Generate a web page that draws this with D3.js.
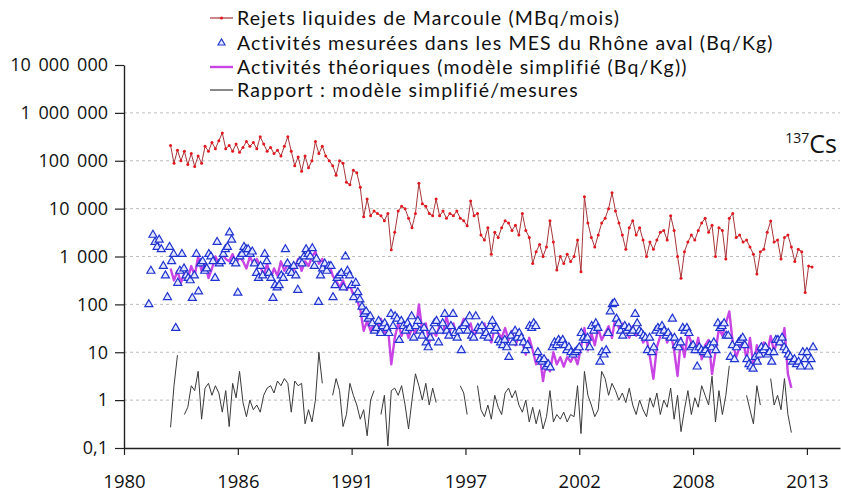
<!DOCTYPE html>
<html><head><meta charset="utf-8">
<script src="https://cdn.jsdelivr.net/npm/d3@7"></script>
<style>
html,body{margin:0;padding:0;background:#fff;}
svg{display:block;font-family:"Open Sans",sans-serif;}
</style></head>
<body>
<svg id="chart" width="841" height="495"></svg>
<script>
// ---------------- DATA ----------------
const legendLabels = [
  "Rejets liquides de Marcoule (MBq/mois)",
  "Activités mesurées dans les MES du Rhône aval (Bq/Kg)",
  "Activités théoriques (modèle simplifié (Bq/Kg))",
  "Rapport : modèle simplifié/mesures"
];
const xTickValues = [1980, 1985.5, 1991, 1996.5, 2002, 2007.5, 2013];
const xTickLabels = ["1980", "1986", "1991", "1997", "2002", "2008", "2013"];
const yTickValues = [0.1, 1, 10, 100, 1000, 10000, 100000, 1000000, 10000000];
const yTickLabels = ["0,1", "1", "10", "100", "1 000", "10 000", "100 000", "1 000 000", "10 000 000"];
const isotopeMass = "137";
const isotopeSymbol = "Cs";

// series sampled every 2 months from 1982.25 (red, purple, black), every 0.1 year from 1981.2 (blue)
const lineStart = 1982.25, lineStep = 1 / 6;
const blueStart = 1981.2, blueStep = 0.1;

const rejets = [
  209000, 89000, 166000, 100000, 158000, 83000,
  141000, 76000, 126000, 89000, 200000, 158000,
  240000, 178000, 263000, 380000, 178000, 209000,
  158000, 224000, 151000, 190000, 251000, 200000,
  240000, 178000, 316000, 224000, 158000, 190000,
  141000, 166000, 126000, 200000, 316000, 158000,
  79000, 120000, 60000, 126000, 71000, 100000,
  251000, 141000, 200000, 126000, 100000, 79000,
  50000, 100000, 89000, 35500, 31600, 63000,
  56000, 28000, 6800, 15800, 7100, 8900,
  7900, 7100, 5600, 7900, 1380, 3200,
  8900, 11200, 10000, 6300, 4000, 7900,
  34000, 12600, 11200, 7900, 7100, 15800,
  7100, 8900, 6300, 7900, 7100, 8900,
  6300, 5600, 4400, 14500, 7100, 7900,
  2800, 2200, 4000, 1120, 3200, 2500,
  4000, 5600, 5000, 3500, 4500, 2800,
  7900, 3500, 2500, 710, 1260, 1780,
  1000, 1580, 5600, 2000, 520, 1000,
  710, 1120, 790, 1000, 2200, 480,
  17800, 5000, 2500, 1580, 2800, 5000,
  6300, 10000, 21400, 8900, 5000, 2800,
  1410, 4000, 5600, 2800, 4000, 2200,
  1000, 2000, 1410, 2200, 3200, 3500,
  2200, 7100, 3500, 1000, 350, 1260,
  2000, 2800, 2200, 3500, 5000, 6300,
  3200, 4500, 1000, 4000, 3500, 890,
  6300, 7900, 2500, 2800, 2000, 2200,
  1580, 1120, 430, 1260, 1410, 3200,
  5500, 2000, 2200, 890, 2500, 2800,
  1580, 790, 1410, 1260, 178, 630,
  600
];

const mesures = [
  100, 500, 2820, 2000, 1580, 2240, 1410, 630,
  400, 141, 1580, 790, 1120, 32, 280, 500, 1120, 560,
  400, 355, 316, 135, 400, 1120, 186, 710, 790, 500,
  560, 1120, 1000, 790, 355, 2000, 710, 790, 1120, 1410,
  1580, 3160, 2240, 790, 710, 174, 1000, 1120, 1580, 1410,
  1410, 1120, 1260, 710, 450, 355, 630, 400, 1120, 790,
  450, 355, 135, 250, 224, 250, 400, 355, 1410, 710,
  500, 450, 630, 400, 200, 790, 710, 1000, 1410, 1120,
  1000, 1480, 630, 890, 112, 400, 560, 710, 500, 630,
  630, 141, 250, 355, 400, 450, 224, 1000, 500, 400,
  250, 141, 280, 178, 126, 89, 63, 71, 50, 56,
  40, 28, 32, 45, 25, 35, 40, 32, 25, 63,
  35, 56, 50, 18, 45, 35, 28, 40, 32, 56,
  20, 35, 45, 28, 22, 32, 16, 12.6, 20, 28,
  40, 45, 16, 28, 40, 63, 28, 22, 35, 63,
  25, 20, 28, 11, 35, 40, 28, 56, 22, 20,
  56, 32, 28, 35, 22, 25, 20, 35, 45, 28,
  32, 18, 16, 14, 18, 12.6, 7.9, 22, 16, 28,
  20, 25, 20, 16, 11, 14, 35, 32, 40, 35,
  10, 7.1, 6.3, 7.1, 5.0, 5.6, 4.8, 12.6, 16, 14,
  18, 16, 18, 14, 11, 12.6, 10, 8.9, 10, 11,
  12.6, 25, 20, 18, 20, 12.6, 35, 28, 40, 32,
  6.3, 10, 8.9, 11, 25, 71, 100, 107, 50, 40,
  28, 22, 35, 28, 32, 25, 28, 63, 40, 28,
  25, 22, 20, 11, 20, 10, 12.6, 28, 32, 25,
  35, 28, 22, 25, 20, 50, 20, 14, 12.6, 16,
  32, 28, 32, 25, 12.6, 14, 11, 5.0, 12.6, 11,
  10, 11, 8.9, 14, 12.6, 16, 11, 40, 32, 35,
  40, 22, 22, 7.9, 14, 7.1, 12.6, 16, 18, 20,
  14, 7.1, 5.6, 5.0, 4.5, 7.9, 6.3, 8.9, 12.6, 11,
  12.6, 8.9, 10, 6.3, 10, 18, 18, 16, 20, 12.6,
  11, 8.9, 7.9, 6.3, 7.1, 5.6, 6.3, 5.0, 10, 7.1,
  10, 5.0, 7.1, 12.6
];

const theoriques = [
  562, 316, 501, 282, 447, 355,
  631, 398, 1000, 501, 708, 355,
  562, 1000, 708, 1120, 891, 794,
  1120, 708, 1000, 794, 562, 1000,
  708, 891, 631, 398, 708, 355,
  562, 398, 794, 501, 708, 447,
  562, 891, 501, 794, 631, 1000,
  1260, 708, 891, 501, 708, 398,
  316, 224, 316, 200, 251, 158,
  126, 79, 28, 45, 28, 40,
  32, 50, 25, 35, 5.6, 20,
  40, 22, 35, 20, 32, 25,
  100, 28, 40, 16, 28, 22,
  35, 25, 56, 28, 40, 22,
  32, 50, 28, 40, 20, 35,
  28, 40, 22, 16, 32, 25,
  20, 32, 18, 28, 14, 22,
  16, 8.9, 20, 11, 5.6, 8.9,
  2.5, 7.1, 4.0, 10, 5.6, 7.9,
  5.0, 7.9, 6.3, 8.9, 5.6, 12.6,
  32, 11, 25, 14, 32, 18,
  25, 35, 20, 56, 32, 40,
  28, 20, 35, 22, 32, 16,
  20, 7.9, 2.8, 12.6, 22, 32,
  16, 25, 11, 3.2, 20, 7.9,
  25, 16, 10, 20, 7.1, 14,
  18, 3.5, 10, 32, 22, 40,
  71, 16, 7.9, 12.6, 18, 7.1,
  20, 5.0, 14, 7.9, 16, 10,
  22, 10, 20, 14, 32, 3.5,
  1.8
];

const rapport = [
  0.27, 2.0, 8.7, null, 0.5, 0.71,
  2.0, 1.58, 4.0, 0.4, 1.78, 2.24,
  1.26, 2.0, 1.41, 0.56, 1.58, 0.28,
  2.24, 1.12, 4.0, 0.89, 0.45, 1.0,
  0.63, 0.79, 0.56, 1.26, 1.78, 2.0,
  1.41, 2.51, 2.0, 2.82, 2.24, 0.56,
  2.51, 2.0, 2.24, 0.32, 0.63, 0.35,
  1.0, 10, 2.24, null, null, 1.26,
  2.82, 1.58, 0.28, 0.5, 2.24, 1.26,
  0.79, 0.4, 0.63, 0.18, 1.0, 1.58,
  null, 0.5, 1.26, 0.11, 1.58, 1.78,
  1.26, 2.0, 0.79, 0.25, 1.0, 3.55,
  2.0, 1.0, 2.24, 0.79, 1.78, 0.89,
  null, null, null, null, null, null,
  2.0, 1.41, 0.5, null, null, 2.0,
  0.63, 0.45, 0.79, 0.4, 1.26, 0.71,
  0.5, 1.41, 1.78, 1.12, 1.58, 0.79,
  0.56, 1.0, 0.35, 0.71, 0.32, 0.63,
  0.25, 0.45, 1.58, 0.35, 0.5, 0.4,
  0.56, 0.35, 0.5, 0.45, 2.0, 0.2,
  3.98, 1.26, 0.79, 0.45, 0.63, 3.98,
  2.82, 1.26, 2.24, 1.58, 1.0, 1.41,
  0.89, 1.78, 0.79, 0.5, 1.0, 0.63,
  0.45, 1.12, 0.71, 1.41, 0.5, 1.0,
  0.71, 1.78, 0.4, 1.26, 0.22, 0.63,
  1.58, 0.5, 1.12, 0.71, 2.0, 1.26,
  0.79, 3.16, 0.35, 1.58, 0.5, 1.26,
  5.2, null, null, null, null, 1.26,
  0.63, 0.32, 2.0, 0.79, null, null,
  2.82, 0.79, 1.26, 0.63, 2.82, 0.5,
  0.21
];

// ---------------- CHART ----------------
const colors = { red: "#e3171e", redLine: "#a8353a", blue: "#1f33d0", blueFill: "#e4e8ff", purple: "#c944e4", black: "#3a3a3a", grid: "#bdbdbd", axis: "#222" };

const svg = d3.select("#chart");
const x = d3.scaleLinear().domain([1980, 2014.6]).range([124, 840]);
const y = d3.scaleLog().domain([0.1, 1e7]).range([448, 65]);

const toPts = (arr, start, step) => arr.map((v, i) => ({ t: start + i * step, v }));
const redPts = toPts(rejets, lineStart, lineStep);
const purplePts = toPts(theoriques, lineStart, lineStep);
const blackPts = toPts(rapport, lineStart, lineStep);
const bluePts = toPts(mesures, blueStart, blueStep).filter(d => d.v != null);

// gridlines
svg.append("g").selectAll("line")
  .data(yTickValues.filter(v => v > 0.1 && v < 1e7))
  .join("line")
  .attr("x1", x(1980)).attr("x2", x(2014.6))
  .attr("y1", d => y(d)).attr("y2", d => y(d))
  .attr("stroke", colors.grid).attr("stroke-width", 1)
  .attr("stroke-dasharray", "3,3");

// axes
const yAxis = d3.axisLeft(y).tickValues(yTickValues)
  .tickFormat((d, i) => yTickLabels[i]).tickSize(9).tickSizeOuter(0).tickPadding(7);
const gy = svg.append("g").attr("transform", `translate(${x(1980)},0)`).call(yAxis);
gy.selectAll("text").attr("font-size", 18).attr("fill", "#111")
  .attr("font-family", "Open Sans").style("word-spacing", "3px");

const xAxis = d3.axisBottom(x).tickValues(xTickValues)
  .tickFormat((d, i) => xTickLabels[i]).tickSize(7).tickSizeOuter(0).tickPadding(20);
const gx = svg.append("g").attr("transform", `translate(0,${y(0.1)})`).call(xAxis);
gx.selectAll("text").attr("font-size", 18.5).attr("fill", "#111").attr("font-family", "Open Sans");

[gx, gy].forEach(g => {
  g.select(".domain").attr("stroke", colors.axis).attr("stroke-width", 1.4);
  g.selectAll(".tick line").attr("stroke", colors.axis).attr("stroke-width", 1.2);
});

// red line (rejets)
const line = d3.line().defined(d => d.v != null).x(d => x(d.t)).y(d => y(d.v));
svg.append("path").datum(redPts).attr("d", line)
  .attr("fill", "none").attr("stroke", colors.redLine).attr("stroke-width", 1);
svg.append("g").selectAll("circle").data(redPts).join("circle")
  .attr("cx", d => x(d.t)).attr("cy", d => y(d.v)).attr("r", 1.5).attr("fill", colors.red);

// purple model line
svg.append("path").datum(purplePts).attr("d", line)
  .attr("fill", "none").attr("stroke", colors.purple).attr("stroke-width", 2.4)
  .attr("stroke-linejoin", "round");

// blue triangles
const tri = d3.symbol().type(d3.symbolTriangle).size(28);
svg.append("g").selectAll("path").data(bluePts).join("path")
  .attr("d", tri)
  .attr("transform", d => `translate(${x(d.t)},${y(d.v)})`)
  .attr("fill", colors.blueFill).attr("stroke", colors.blue).attr("stroke-width", 1.2);

// black ratio line
svg.append("path").datum(blackPts).attr("d", line)
  .attr("fill", "none").attr("stroke", colors.black).attr("stroke-width", 1);

// legend
const legend = svg.append("g");
const rowsY = [18, 43, 67, 90];
const legendTexts = [];
legendLabels.forEach((lab, i) => {
  const g = legend.append("g").attr("transform", `translate(0,${rowsY[i]})`);
  if (i === 0) {
    g.append("line").attr("x1", 210).attr("x2", 233).attr("y1", 0).attr("y2", 0)
      .attr("stroke", colors.redLine).attr("stroke-width", 1.2);
    g.append("circle").attr("cx", 221.5).attr("cy", 0).attr("r", 1.5).attr("fill", colors.red);
  } else if (i === 1) {
    g.append("path").attr("d", d3.symbol().type(d3.symbolTriangle).size(22)).attr("transform", "translate(221.5,0)")
      .attr("fill", colors.blueFill).attr("stroke", colors.blue).attr("stroke-width", 1.1);
  } else if (i === 2) {
    g.append("line").attr("x1", 210).attr("x2", 233).attr("y1", 0).attr("y2", 0)
      .attr("stroke", colors.purple).attr("stroke-width", 2.4);
  } else {
    g.append("line").attr("x1", 210).attr("x2", 233).attr("y1", 0).attr("y2", 0)
      .attr("stroke", colors.black).attr("stroke-width", 1.2);
  }
  legendTexts.push(g.append("text").attr("x", 237).attr("y", 0).attr("dy", "0.36em")
    .attr("font-family", "Lato").attr("font-size", 19.5)
    .attr("fill", "#111").text(lab));
});
// widen letter spacing so the first row spans the same width as in the reference
const w0 = legendTexts[0].node().getComputedTextLength();
const ls = Math.max(0, (383 - w0) / legendLabels[0].length);
legendTexts.forEach(t => t.style("letter-spacing", ls + "px"));

// isotope label
const iso = svg.append("text").attr("x", 837).attr("y", 153).attr("text-anchor", "end").attr("fill", "#111");
iso.append("tspan").attr("font-size", 14).attr("dy", -10).text(isotopeMass);
iso.append("tspan").attr("font-size", 25).attr("dy", 10).text(isotopeSymbol);
</script>
</body></html>
